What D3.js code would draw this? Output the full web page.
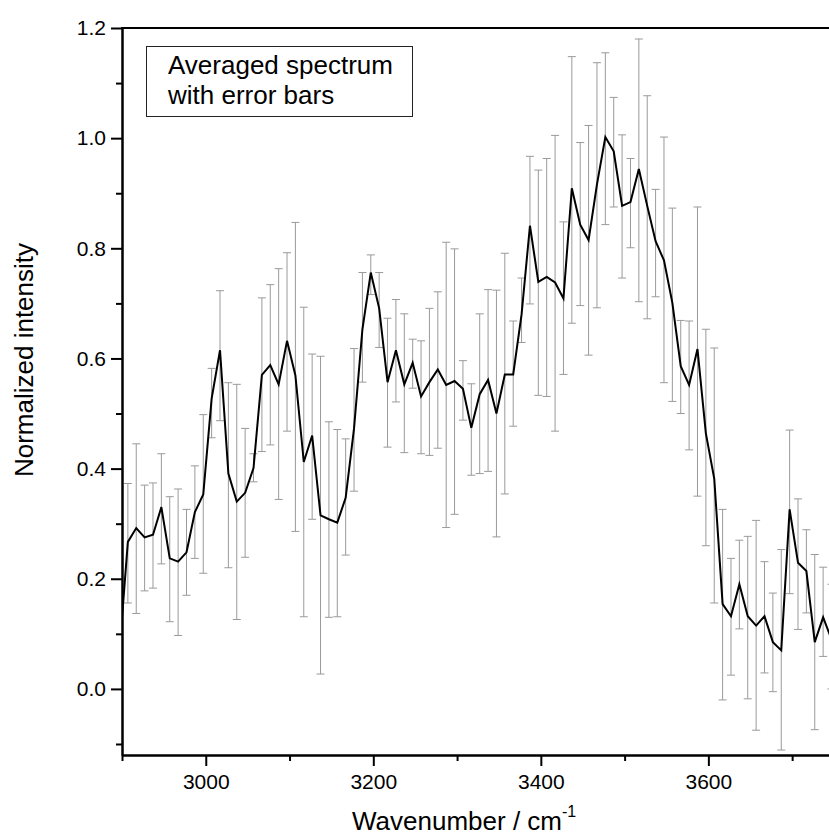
<!DOCTYPE html>
<html>
<head>
<meta charset="utf-8">
<script src="https://cdn.jsdelivr.net/npm/d3@7"></script>
<style>
  html, body { margin: 0; padding: 0; background: #fff; }
  svg { display: block; font-family: "Liberation Sans", Arial, Helvetica, sans-serif; }
</style>
</head>
<body>
<svg id="chart" width="829" height="836"></svg>
<script>
// Wavenumber (cm^-1)
const wavenumber = [2897, 2907, 2917, 2927, 2937, 2947, 2957, 2967, 2977, 2987,
  2997, 3007, 3017, 3027, 3037, 3047, 3057, 3067, 3077, 3087,
  3097, 3107, 3117, 3127, 3137, 3147, 3157, 3167, 3177, 3187,
  3197, 3207, 3217, 3227, 3237, 3247, 3257, 3267, 3277, 3287,
  3297, 3307, 3317, 3327, 3337, 3347, 3357, 3367, 3377, 3387,
  3397, 3407, 3417, 3427, 3437, 3447, 3457, 3467, 3477, 3487,
  3497, 3507, 3517, 3527, 3537, 3547, 3557, 3567, 3577, 3587,
  3597, 3607, 3617, 3627, 3637, 3647, 3657, 3667, 3677, 3687,
  3697, 3707, 3717, 3727, 3737, 3747];
// Averaged normalized intensity
const intensity = [0.070, 0.267, 0.292, 0.275, 0.280, 0.330, 0.237, 0.231, 0.248, 0.321,
  0.353, 0.527, 0.615, 0.391, 0.340, 0.356, 0.401, 0.570, 0.588, 0.553,
  0.632, 0.569, 0.412, 0.460, 0.315, 0.308, 0.302, 0.347, 0.473, 0.653,
  0.756, 0.691, 0.557, 0.615, 0.553, 0.592, 0.531, 0.557, 0.580, 0.552,
  0.559, 0.545, 0.474, 0.535, 0.561, 0.500, 0.571, 0.571, 0.680, 0.841,
  0.739, 0.748, 0.738, 0.709, 0.909, 0.843, 0.815, 0.916, 1.002, 0.976,
  0.877, 0.884, 0.944, 0.877, 0.813, 0.778, 0.701, 0.586, 0.552, 0.617,
  0.464, 0.382, 0.154, 0.132, 0.190, 0.132, 0.115, 0.132, 0.085, 0.070,
  0.326, 0.229, 0.214, 0.085, 0.130, 0.090];
// Upper end of error bar
const errUpper = [0.236, 0.373, 0.445, 0.370, 0.374, 0.427, 0.349, 0.363, 0.326, 0.405,
  0.498, 0.582, 0.723, 0.556, 0.553, 0.473, 0.427, 0.710, 0.734, 0.763,
  0.792, 0.847, 0.693, 0.608, 0.604, 0.485, 0.471, 0.454, 0.618, 0.756,
  0.788, 0.756, 0.673, 0.707, 0.681, 0.635, 0.632, 0.691, 0.721, 0.811,
  0.799, 0.596, 0.554, 0.681, 0.725, 0.724, 0.791, 0.668, 0.746, 0.967,
  0.942, 0.963, 1.005, 0.848, 1.148, 0.992, 1.023, 1.137, 1.155, 1.074,
  1.006, 0.963, 1.180, 1.077, 0.907, 1.002, 0.873, 0.669, 0.668, 0.875,
  0.653, 0.619, 0.326, 0.237, 0.270, 0.277, 0.306, 0.231, 0.174, 0.253,
  0.470, 0.345, 0.289, 0.244, 0.221, 0.190];
// Lower end of error bar
const errLower = [-0.038, 0.156, 0.137, 0.178, 0.183, 0.227, 0.122, 0.097, 0.170, 0.237,
  0.210, 0.456, 0.487, 0.220, 0.126, 0.239, 0.376, 0.431, 0.443, 0.344,
  0.468, 0.286, 0.131, 0.308, 0.027, 0.130, 0.131, 0.243, 0.359, 0.557,
  0.716, 0.620, 0.439, 0.521, 0.429, 0.546, 0.427, 0.424, 0.437, 0.293,
  0.317, 0.488, 0.388, 0.391, 0.395, 0.276, 0.354, 0.477, 0.629, 0.699,
  0.533, 0.531, 0.468, 0.571, 0.664, 0.696, 0.606, 0.692, 0.843, 0.875,
  0.746, 0.801, 0.703, 0.672, 0.712, 0.556, 0.522, 0.500, 0.434, 0.350,
  0.260, 0.156, -0.020, 0.025, 0.109, -0.018, -0.075, 0.029, -0.005, -0.111,
  0.173, 0.108, 0.138, -0.074, 0.059, 0.000];

const xMajorTicks = [3000, 3200, 3400, 3600];
const xMinorTicks = [2900, 3100, 3300, 3500, 3700];
const yMajorTicks = [0.0, 0.2, 0.4, 0.6, 0.8, 1.0, 1.2];
const yMinorTicks = [-0.1, 0.1, 0.3, 0.5, 0.7, 0.9, 1.1];
const legendLines = ["Averaged spectrum", "with error bars"];
const xTitle = "Wavenumber / cm";
const xTitleSup = "-1";
const yTitle = "Normalized intensity";

const svg = d3.select("#chart");
const L = 122, R = 829, T = 28, B = 755;
const x = d3.scaleLinear().domain([2900, 3744]).range([L, R]);
const y = d3.scaleLinear().domain([-0.12, 1.2]).range([B, T]);

const data = wavenumber.map((w, i) => ({ w, v: intensity[i], hi: errUpper[i], lo: errLower[i] }));

svg.append("defs").append("clipPath").attr("id", "plotclip")
  .append("rect").attr("x", L).attr("y", T).attr("width", R - L + 10).attr("height", B - T);

const plot = svg.append("g").attr("clip-path", "url(#plotclip)");

// error bars
const eb = plot.append("g").attr("stroke", "#9a9a9a").attr("stroke-width", 1).attr("fill", "none");
const cap = 4;
data.forEach(d => {
  const cx = x(d.w);
  eb.append("line").attr("x1", cx).attr("x2", cx).attr("y1", y(d.hi)).attr("y2", y(d.lo));
  eb.append("line").attr("x1", cx - cap).attr("x2", cx + cap).attr("y1", y(d.hi)).attr("y2", y(d.hi));
  eb.append("line").attr("x1", cx - cap).attr("x2", cx + cap).attr("y1", y(d.lo)).attr("y2", y(d.lo));
});

// spectrum line
plot.append("path").datum(data)
  .attr("fill", "none").attr("stroke", "#000").attr("stroke-width", 2)
  .attr("stroke-linejoin", "miter")
  .attr("d", d3.line().x(d => x(d.w)).y(d => y(d.v)));

// axes
const styleAxis = g => {
  g.selectAll("path.domain").attr("stroke", "#000").attr("stroke-width", 2);
  g.selectAll(".tick line").attr("stroke", "#000").attr("stroke-width", 2);
  g.selectAll("text").attr("fill", "#000").style("font-size", "21px")
    .style("font-family", "'Liberation Sans', Arial, sans-serif");
};

svg.append("g").attr("transform", `translate(0,${B})`)
  .call(d3.axisBottom(x).tickValues(xMinorTicks).tickSize(6).tickSizeOuter(0).tickFormat(""))
  .call(styleAxis);
svg.append("g").attr("transform", `translate(0,${B})`)
  .call(d3.axisBottom(x).tickValues(xMajorTicks).tickSize(11).tickSizeOuter(0).tickPadding(8).tickFormat(d3.format("d")))
  .call(styleAxis);

svg.append("g").attr("transform", `translate(${L},0)`)
  .call(d3.axisLeft(y).tickValues(yMinorTicks).tickSize(6).tickSizeOuter(0).tickFormat(""))
  .call(styleAxis);
svg.append("g").attr("transform", `translate(${L},0)`)
  .call(d3.axisLeft(y).tickValues(yMajorTicks).tickSize(11).tickSizeOuter(0).tickPadding(5).tickFormat(d3.format(".1f")))
  .call(styleAxis);

// top frame line
svg.append("line").attr("x1", L - 1).attr("x2", R + 5).attr("y1", T).attr("y2", T)
  .attr("stroke", "#000").attr("stroke-width", 2);

// legend box
svg.append("rect").attr("x", 146.5).attr("y", 46.5).attr("width", 266).attr("height", 70)
  .attr("fill", "#fff").attr("stroke", "#222").attr("stroke-width", 1);
legendLines.forEach((t, i) => {
  svg.append("text").attr("x", 168).attr("y", 74 + i * 29.5)
    .style("font-size", "26px").attr("fill", "#000").text(t);
});

// axis titles
const xt = svg.append("text").attr("x", 352).attr("y", 830).style("font-size", "26px").attr("fill", "#000");
xt.append("tspan").text(xTitle);
xt.append("tspan").attr("dy", -13).style("font-size", "16px").text(xTitleSup);

svg.append("text").attr("transform", "translate(33,360) rotate(-90)")
  .attr("text-anchor", "middle").style("font-size", "26px").attr("fill", "#000").text(yTitle);
</script>
</body>
</html>
